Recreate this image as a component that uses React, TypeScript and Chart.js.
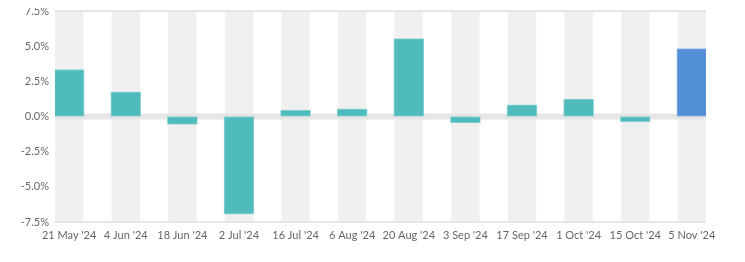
import React, { useEffect, useRef } from "react";
import { Chart, registerables } from "chart.js";

Chart.register(...registerables);

const categories = [
  "21 May '24", "4 Jun '24", "18 Jun '24", "2 Jul '24", "16 Jul '24", "6 Aug '24",
  "20 Aug '24", "3 Sep '24", "17 Sep '24", "1 Oct '24", "15 Oct '24", "5 Nov '24",
];
const returns = [3.34, 1.76, -0.57, -6.95, 0.45, 0.55, 5.54, -0.45, 0.83, 1.24, -0.38, 4.83];
const yTicks = [-7.5, -5, -2.5, 0, 2.5, 5, 7.5];
const ruledValues = [7.5, 0, -7.5];

const TEAL = "#4fbbbc";
const TEAL_EDGE = "#93d5d5";
const BLUE = "#528fd5";
const BLUE_EDGE = "#97bbe6";

const bandPlugin = {
  id: "bands",
  beforeDatasetsDraw(chart: any) {
    const { ctx, chartArea, scales } = chart;
    const x = scales.x;
    const y = scales.y;
    ctx.save();
    ctx.fillStyle = "#f0f0f0";
    categories.forEach((_, i) => {
      const l = x.getPixelForValue(i - 0.25);
      const r = x.getPixelForValue(i + 0.25);
      ctx.fillRect(l, chartArea.top, r - l, chartArea.bottom - chartArea.top);
    });
    ctx.fillStyle = "#e6e6e6";
    ruledValues.forEach((v) => {
      const py = y.getPixelForValue(v);
      const w = v === 0 ? 6 : 2;
      ctx.fillRect(chartArea.left, py - w / 2, chartArea.right - chartArea.left, w);
    });
    ctx.restore();
  },
};

export default function App() {
  const ref = useRef<HTMLCanvasElement>(null);
  useEffect(() => {
    const last = returns.length - 1;
    const chart = new Chart(ref.current!, {
      type: "bar",
      data: {
        datasets: [
          {
            data: returns.map((v, i) => ({ x: i, y: v })),
            backgroundColor: returns.map((_, i) => (i === last ? BLUE : TEAL)),
            borderColor: returns.map((_, i) => (i === last ? BLUE_EDGE : TEAL_EDGE)),
            borderWidth: 1,
            borderSkipped: false,
            barThickness: 30,
          },
        ],
      },
      options: {
        animation: false,
        responsive: false,
        maintainAspectRatio: false,
        layout: { padding: { top: 3, right: 31, left: 0, bottom: 0 } },
        plugins: { legend: { display: false }, tooltip: { enabled: false } },
        scales: {
          x: {
            type: "linear",
            offset: false,
            min: -0.25,
            max: 11.25,
            afterBuildTicks: (scale: any) => {
              scale.ticks = categories.map((_, i) => ({ value: i }));
            },
            afterFit: (scale: any) => {
              scale.height = 32;
              scale.paddingLeft = 0;
              scale.paddingRight = 0;
            },
            grid: { display: false, drawTicks: false },
            border: { display: false },
            ticks: {
              autoSkip: false,
              maxRotation: 0,
              padding: 7,
              color: "#666666",
              font: { family: "Lato", size: 11 },
              callback: (v: any) => categories[v as number] ?? "",
            },
          },
          y: {
            min: -7.5,
            max: 7.5,
            afterBuildTicks: (scale: any) => {
              scale.ticks = yTicks.map((v) => ({ value: v }));
            },
            afterFit: (scale: any) => {
              scale.width = 47;
              scale.paddingTop = 0;
              scale.paddingBottom = 0;
            },
            border: { display: false },
            grid: { display: false, drawTicks: false },
            ticks: {
              padding: 6,
              color: "#666666",
              font: { family: "Lato", size: 11 },
              callback: (v: any) => Number(v).toFixed(1) + "%",
            },
          },
        },
      },
      plugins: [bandPlugin],
    });
    return () => chart.destroy();
  }, []);
  return (
    <div style={{ width: 729, height: 246 }}>
      <canvas ref={ref} width={729} height={246} style={{ display: "block" }} />
    </div>
  );
}
